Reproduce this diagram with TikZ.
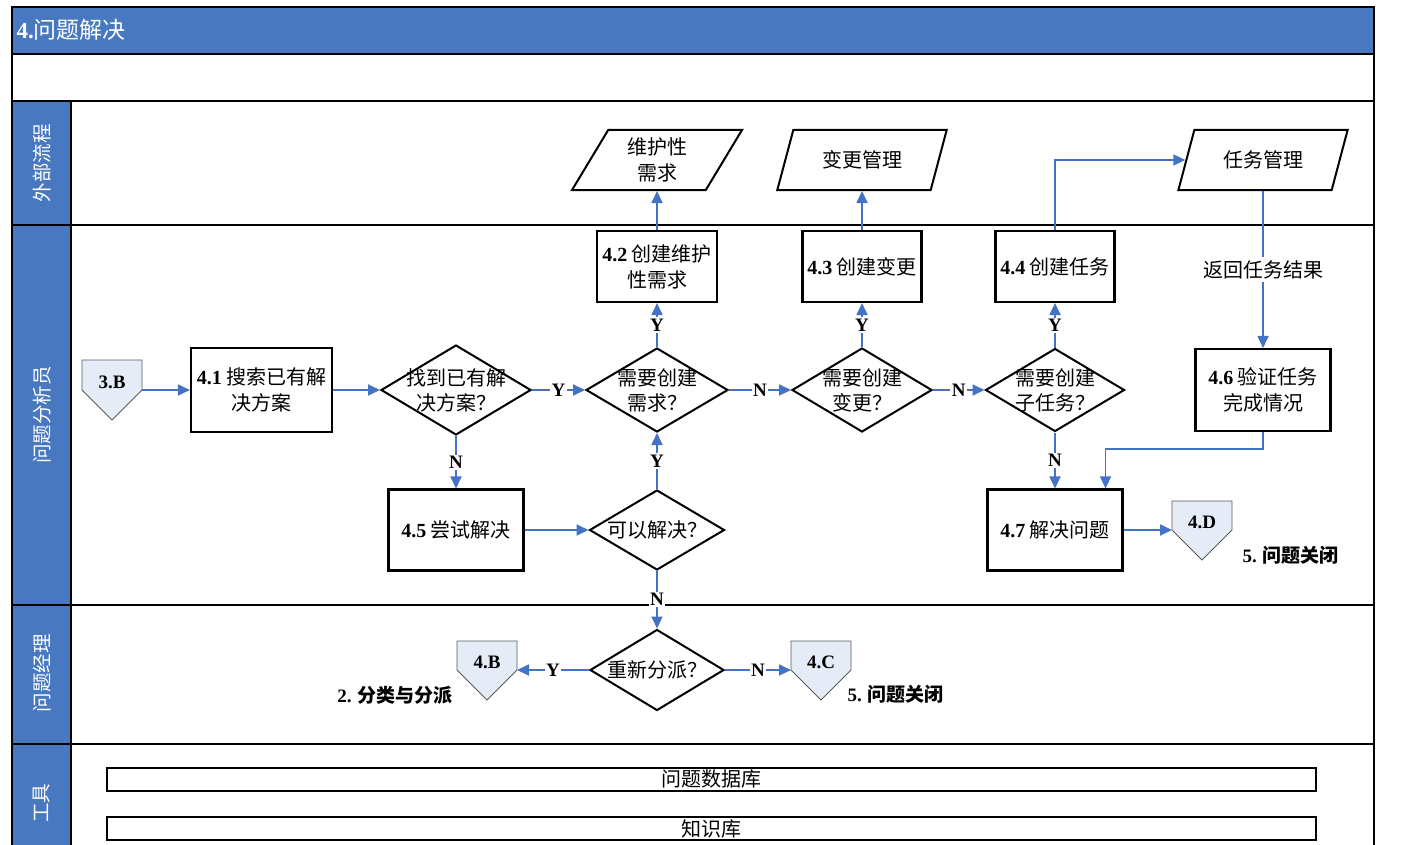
\documentclass[tikz,border=0pt]{standalone}
\usepackage{fontspec}
\setmainfont{Liberation Serif}
\newfontfamily\cjk{Noto Sans CJK SC}
\usetikzlibrary{arrows.meta,shapes.geometric}
\definecolor{B4}{RGB}{71,120,192}
\definecolor{C4}{RGB}{68,114,196}
\definecolor{L4}{RGB}{230,236,247}
\definecolor{G4}{RGB}{90,90,90}

\begin{document}
\begin{tikzpicture}[x=1pt, y=-1pt,
    box/.style={draw, line width=2.1pt, inner sep=0pt, align=center, font=\cjk\fontsize{20}{26}\selectfont},
    dec/.style={draw, diamond, line width=2pt, inner sep=0pt},
    io/.style={draw, trapezium, trapezium left angle=63.4, trapezium right angle=116.6, trapezium stretches=true, line width=2pt, inner sep=0pt, minimum width=170pt, minimum height=60pt, align=center, font=\cjk\fontsize{20}{26}\selectfont},
    txt/.style={align=center, font=\cjk\fontsize{20}{25}\selectfont},
    offpg/.style={draw=G4, fill=L4, line width=0.9pt},
    offtxt/.style={font=\bfseries\fontsize{19}{19}\selectfont},
    note/.style={font=\cjk\bfseries\fontsize{19}{19}\selectfont},
    yn/.style={fill=white, text=black, inner sep=1.5pt, font=\bfseries\fontsize{19}{19}\selectfont},
    lbl/.style={fill=white, text=black, inner sep=3pt, font=\cjk\fontsize{20}{20}\selectfont},
    flow/.style={C4, line width=1.8pt, -{Triangle[length=12pt, width=11pt]}},
    lane/.style={line width=2.6pt},
    lanetxt/.style={rotate=90, text=white, font=\cjk\fontsize{19.5}{19.5}\selectfont},
    bar/.style={draw, line width=2pt, minimum width=1209pt, minimum height=23pt, inner sep=0pt, font=\cjk\fontsize{20}{20}\selectfont}
  ]
  \useasboundingbox (0, 0) rectangle (1404, 845);
  \fill[B4] (12, 7) rectangle (1374, 54);
  \fill[B4] (12, 101) rectangle (71, 860);
  \draw[lane] (12, 7) rectangle (1374, 860);
  \draw[lane] (12, 54) -- (1374, 54);
  \draw[lane] (12, 101) -- (1374, 101);
  \draw[lane] (12, 225) -- (1374, 225);
  \draw[lane] (12, 605) -- (1374, 605);
  \draw[lane] (12, 744) -- (1374, 744);
  \draw[lane] (71, 101) -- (71, 860);
  \node[anchor=west, text=white, font=\cjk\fontsize{23}{23}\selectfont] (ttl) at (13, 30) {{\rmfamily\bfseries 4.}问题解决};
  \node[lanetxt] (l1) at (42, 163) {外部流程};
  \node[lanetxt] (l2) at (42, 415) {问题分析员};
  \node[lanetxt] (l3) at (42, 673) {问题经理};
  \node[lanetxt] (l4) at (42, 803) {工具};

  \node[io] (m1) at (657, 160) {维护性\\需求};
  \node[io] (m2) at (862, 160) {变更管理};
  \node[io] (m3) at (1263, 160) {任务管理};

  \node[box, minimum width=141pt, minimum height=84pt] (p41) at (261.5, 390) {{\rmfamily\bfseries 4.1} 搜索已有解\\决方案};
  \node[box, minimum width=120pt, minimum height=71pt] (p42) at (657, 266.5) {{\rmfamily\bfseries 4.2} 创建维护\\性需求};
  \node[box, minimum width=119pt, minimum height=71pt] (p43) at (862, 266.5) {{\rmfamily\bfseries 4.3} 创建变更};
  \node[box, minimum width=119pt, minimum height=71pt] (p44) at (1055, 266.5) {{\rmfamily\bfseries 4.4} 创建任务};
  \node[box, minimum width=135pt, minimum height=81pt] (p45) at (456, 530) {{\rmfamily\bfseries 4.5} 尝试解决};
  \node[box, minimum width=135pt, minimum height=82pt] (p46) at (1263, 390) {{\rmfamily\bfseries 4.6} 验证任务\\完成情况};
  \node[box, minimum width=135pt, minimum height=81pt] (p47) at (1055, 530) {{\rmfamily\bfseries 4.7} 解决问题};

  \node[dec, minimum width=150pt, minimum height=90pt] (d1) at (456, 390) {};
  \node[dec, minimum width=142pt, minimum height=84pt] (d2) at (657, 390) {};
  \node[dec, minimum width=140pt, minimum height=84pt] (d3) at (862, 390) {};
  \node[dec, minimum width=139pt, minimum height=83pt] (d4) at (1055, 390) {};
  \node[dec, minimum width=135pt, minimum height=80pt] (d5) at (657, 530) {};
  \node[dec, minimum width=134pt, minimum height=81pt] (d6) at (657, 670) {};
  \node[txt] (d1t) at (d1) {找到已有解\\决方案？};
  \node[txt] (d2t) at (d2) {需要创建\\需求？};
  \node[txt] (d3t) at (d3) {需要创建\\变更？};
  \node[txt] (d4t) at (d4) {需要创建\\子任务？};
  \node[txt] (d5t) at (d5) {可以解决？};
  \node[txt] (d6t) at (d6) {重新分派？};

  \draw[offpg] (82, 360) -- (142, 360) -- (142, 390) -- (112, 420) -- (82, 390) -- cycle;
  \draw[offpg] (457, 641) -- (517, 641) -- (517, 670) -- (487, 700) -- (457, 670) -- cycle;
  \draw[offpg] (791, 641) -- (851, 641) -- (851, 670) -- (821, 700) -- (791, 670) -- cycle;
  \draw[offpg] (1172, 501) -- (1232, 501) -- (1232, 530) -- (1202, 560) -- (1172, 530) -- cycle;
  \node[offtxt] (o3b) at (112, 382) {3.B};
  \node[offtxt] (o4b) at (487, 662) {4.B};
  \node[offtxt] (o4c) at (821, 662) {4.C};
  \node[offtxt] (o4d) at (1202, 522) {4.D};
  \coordinate (o3b-e) at (142, 390);
  \coordinate (o4b-e) at (517, 670);
  \coordinate (o4c-w) at (791, 670);
  \coordinate (o4d-w) at (1172, 530);
  \node[note, anchor=east] (n2) at (456, 695) {{\rmfamily 2.} 分类与分派};
  \node[note, anchor=west] (n5a) at (844, 694) {{\rmfamily 5.} 问题关闭};
  \node[note, anchor=west] (n5b) at (1239, 555) {{\rmfamily 5.} 问题关闭};

  \draw[flow] (o3b-e) -- (p41.west);
  \draw[flow] (p41.east) -- (d1.west);
  \draw[flow] (d1.east) -- node[yn]{Y} (d2.west);
  \draw[flow] (d1.south) -- node[yn]{N} (p45.north);
  \draw[flow] (p45.east) -- (d5.west);
  \draw[flow] (d5.north) -- node[yn]{Y} (d2.south);
  \draw[flow] (d5.south) -- node[yn]{N} (d6.north);
  \draw[flow] (d6.west) -- node[yn]{Y} (o4b-e);
  \draw[flow] (d6.east) -- node[yn]{N} (o4c-w);
  \draw[flow] (d2.north) -- node[yn]{Y} (p42.south);
  \draw[flow] (p42.north) -- (m1.south);
  \draw[flow] (d2.east) -- node[yn]{N} (d3.west);
  \draw[flow] (d3.north) -- node[yn]{Y} (p43.south);
  \draw[flow] (p43.north) -- (m2.south);
  \draw[flow] (d3.east) -- node[yn]{N} (d4.west);
  \draw[flow] (d4.north) -- node[yn]{Y} (p44.south);
  \draw[flow] (p44.north) |- (m3.left side);
  \draw[flow] (m3.south) -- node[lbl]{返回任务结果} (p46.north);
  \draw[flow] (p46.south) -- ++(0, 17) -| ([xshift=-18pt]p47.north east);
  \draw[flow] (d4.south) -- node[yn]{N} (p47.north);
  \draw[flow] (p47.east) -- (o4d-w);

  \node[bar] (db1) at (711.5, 779) {问题数据库};
  \node[bar] (db2) at (711.5, 828.5) {知识库};
\end{tikzpicture}
\end{document}
